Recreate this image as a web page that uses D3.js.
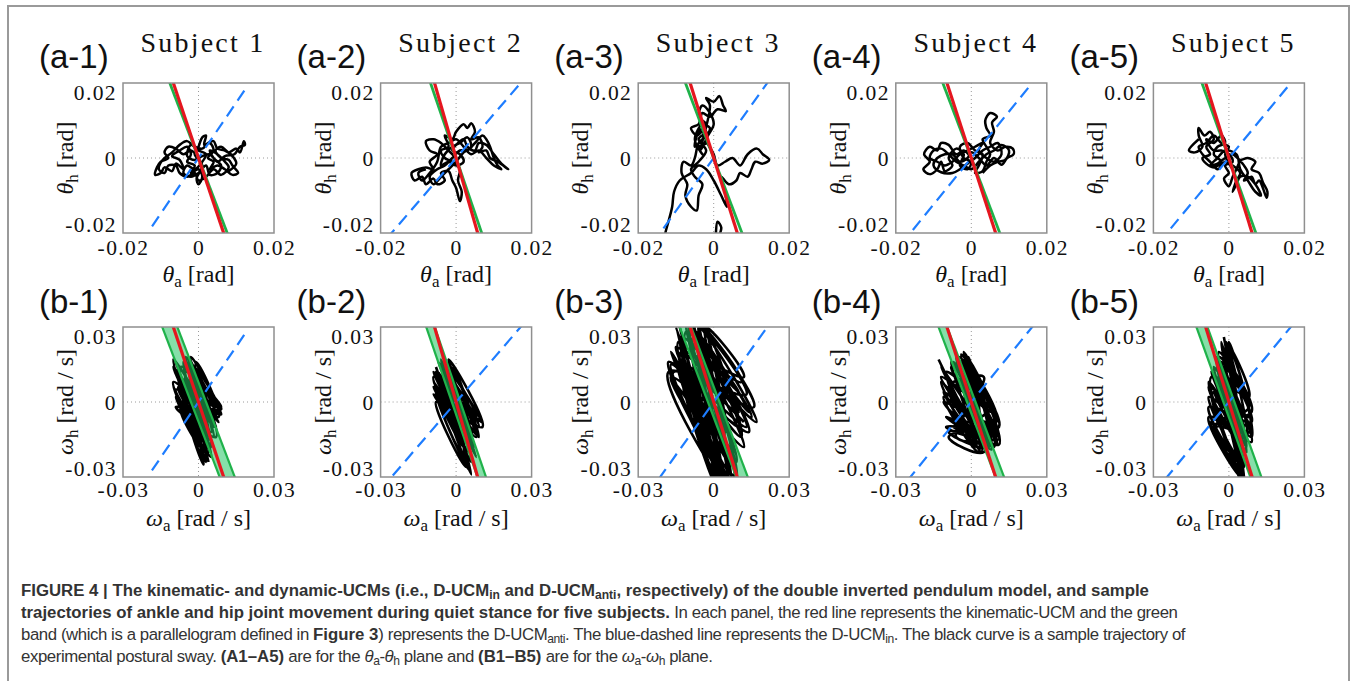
<!DOCTYPE html>
<html>
<head>
<meta charset="utf-8">
<script src="https://cdn.jsdelivr.net/npm/d3@7"></script>
<style>
  body { margin: 0; background: #fff; }
  #wrap { position: relative; width: 1357px; height: 681px; overflow: hidden; }
  #caption {
    position: absolute; left: 21px; top: 580px; width: 1320px;
    font-family: "Liberation Sans", Arial, sans-serif; font-size: 16.8px;
    line-height: 22px; color: #333; white-space: nowrap; letter-spacing: -0.42px;
  }
  #caption b { letter-spacing: 0; }
  #caption sub { font-size: 0.72em; vertical-align: -0.25em; line-height: 0; }
  .serif { font-family: "Liberation Serif", "Times New Roman", serif; }
</style>
</head>
<body>
<div id="wrap">
<svg id="chart" width="1357" height="681"></svg>
<div id="caption">
<b>FIGURE 4 | The kinematic- and dynamic-UCMs (i.e., D-UCM<sub>in</sub> and D-UCM<sub>anti</sub>, respectively) of the double inverted pendulum model, and sample</b><br>
<b>trajectories of ankle and hip joint movement during quiet stance for five subjects.</b> In each panel, the red line represents the kinematic-UCM and the green<br>
band (which is a parallelogram defined in <b>Figure 3</b>) represents the D-UCM<sub>anti</sub>. The blue-dashed line represents the D-UCM<sub>in</sub>. The black curve is a sample trajectory of<br>
experimental postural sway. <b>(A1–A5)</b> are for the <i>θ</i><sub>a</sub>-<i>θ</i><sub>h</sub> plane and <b>(B1–B5)</b> are for the <i>ω</i><sub>a</sub>-<i>ω</i><sub>h</sub> plane.
</div>
</div>
<script>
// ---- data (angles in 1e-3 rad, velocities in 1e-3 rad/s) ----
var subjects = ["Subject 1", "Subject 2", "Subject 3", "Subject 4", "Subject 5"];
var aLabels = ["(a-1)", "(a-2)", "(a-3)", "(a-4)", "(a-5)"];
var bLabels = ["(b-1)", "(b-2)", "(b-3)", "(b-4)", "(b-5)"];
var angleTicks = [-20, 0, 20];
var velTicks = [-30, 0, 30];
var angleTickLabels = ["-0.02", "0", "0.02"];
var velTickLabels = ["-0.03", "0", "0.03"];

// kinematic UCM (red), D-UCM_anti (green), D-UCM_in (blue) slopes per subject
var ucmSlope = [-3.0, -3.5, -3.2, -3.1, -3.25];
var antiSlope = [-2.63, -2.95, -2.67, -2.65, -2.8];
var antiHalfWidth = [3.0, 1.7, 2.3, 1.7, 2.2];
var inSlope = [1.48, 1.17, 1.41, 1.24, 1.22];
var inReachA = [12.3, 25, 25, 25, 25];
var inReachB = [18.5, 35, 35, 35, 35];

// sample trajectories, theta_a-theta_h plane
var trajA1 = [[0,0],[-2,2],[-4,1],[-6,2.5],[-8,3],[-9,1.5],[-8,0],[-10,-1],[-11,-2.5],[-11.5,-4.5],[-10,-4],[-9,-2.5],[-7,-3.5],[-6,-1.5],[-4,-3],[-5,-0.5],[-7,0.5],[-5,2],[-3,3],[-2,1],[-3,-1],[-1,-2],[-2,-4],[0,-3],[1,-5],[0,-7],[-0.5,-5.5],[1,-2],[-1,1],[0,3],[1,5.5],[2,6],[1.5,3.5],[3,4],[4,2],[2.5,0],[4,-1],[3,-3],[5,-2],[7,-3],[9,-4.5],[10.5,-4],[9,-2],[8,-0.5],[6,0],[4.5,2],[6,3],[8,1.5],[10,2.5],[11,1.5],[12,4.5],[12.3,3.5],[11,3],[9.5,1],[7,0.5],[5,-1],[3,1],[1,0.5],[-1,-0.5],[-3,0.5],[-2,3.5],[0,2],[2,1],[1,-1],[-1,-3],[-3,-2],[-4,-4],[-2,-5],[0,-4],[2,-2],[3,-4.5],[5,-4],[6,-2],[4,0],[3,2],[5,1],[7,-1],[8,-2.5],[6,-4.5],[4,-3],[2,-5],[0,-6],[-1,-4],[-3,-5],[-5,-4],[-6,-2],[-8,-2],[-9,-4],[-10.5,-3],[-9.5,-0.5],[-7,1.5],[-5,3.5],[-3,4.5],[-1,3],[1,2.5],[2.5,4],[4,4.5],[5,2.5],[7,2],[9,0.5],[10,-1.5],[8,-3.5]];
var trajA2 = [[0,0],[-2,2],[-4,4],[-6,5],[-8,4.5],[-7,2],[-5,1],[-7,-1],[-6,-3],[-8,-2.5],[-10,-3],[-11.8,-4],[-11,-6],[-9,-5],[-8,-7],[-6,-5.5],[-5,-7],[-3,-6],[-4,-4],[-2,-3.5],[-1,-6],[0,-8],[1,-11.5],[1.5,-9],[0.5,-6],[1,-3],[-1,-1],[-3,0],[-4,2],[-2,3],[-3,6],[-1,5],[0,7],[2,9],[3,8],[4,9.3],[5,7],[4,5],[6,5.5],[7,3],[6,1.5],[8,2],[9,0],[11,-1],[13.8,-3],[12,-1.5],[10,1],[8,3.5],[6,4],[5,2],[3,3],[2,5],[0,3.5],[-1,2],[1,1],[2,-1],[0,-2],[-2,-1],[-4,-2],[-3,1],[-1,3],[1,4],[3,5.5],[4,3],[2,1.5],[0,-1],[-2,-3],[-4,-5],[-6,-7],[-7,-5],[-5,-3],[-3,-2],[-1,0],[1,2],[3,2],[5,4],[7,6],[8,5],[9,3],[10,0],[11,-2],[12,-3],[10,-2],[8,0],[6,2],[4,1],[2,3],[0,5],[-2,4],[-4,3],[-5,-1],[-7,-4],[-9,-6],[-10,-4],[-8,-3]];
var trajA3 = [[-3,5],[-5,3],[-4,7],[-2,9],[-4,11],[-3,14],[-1,12],[0,9],[-1.5,6],[-3.5,2],[-1,14],[-2,16],[0,15],[1.5,16.5],[2.5,14],[3.2,12.5],[1,13],[-1,11],[-3,12],[-4,9],[-6,8],[-4.5,6],[-3,7],[-2,4],[-4,3],[-3,1],[-5,5],[-3,9],[-2,6],[-4,4],[-5,0],[-6,-2],[-8,-1],[-8.5,-4],[-7,-7],[-7.5,-10],[-6,-13],[-4.5,-14],[-4,-10],[-3,-7],[-5,-5],[-6,-3],[-4,-1],[-2,2],[-4,5],[-2,7],[-3,9],[-1,8],[-2,5],[0,1],[1,-2],[3,-1],[5,0],[7,-2],[9,1],[11.5,2.5],[13,1],[14.7,-0.5],[13,-1.5],[11,-1],[10,-3],[9,-5],[7,-4],[6,-6],[4,-7],[2,-5],[3,-9],[3.5,-13],[2,-10],[0,-6],[-2,-3],[-4,-2],[-6,-4],[-9,-6],[-10.5,-9],[-11,-13],[-12,-17],[-13,-21],[-13,-25],[0,-25],[0.5,-21],[1,-17],[2,-18.5],[1.5,-21],[2,-25]];
var trajA4 = [[0,0],[-2,2],[-4,1],[-6,3.5],[-8,4],[-9,2],[-11,3],[-12.5,1],[-11,-1],[-12.7,-3],[-11,-4.3],[-9,-3],[-8,-1],[-7,-3.5],[-5,-2],[-6,0],[-4,2.5],[-2,1],[-3,-2],[-1,-3],[0,-1],[-2,0],[-3,3],[-1,4],[1,2],[3,1],[2,-2],[1,-4],[3,-3.5],[4,-1],[5,1],[4,3],[3,5],[5,6],[4,8],[3.7,10],[5,12],[6.8,11],[5.5,9.5],[6,7],[5,4],[7,2],[9,3],[11,2.5],[11.2,1],[9.5,0],[8,-1.8],[6,0],[4,-2],[2,0],[0,1.5],[-1,0],[-3,-1],[-5,1],[-7,1],[-9,0],[-10,-2],[-8,-3.8],[-5,-4],[-3,-3],[-1,-1.5],[1,0],[3,2],[5,3],[7,4],[8,1],[6,-1],[4,0],[2,2],[3,4],[1,3],[-1,2],[-3,1],[-5,-1],[-7,-2],[-9,-1],[-11,0],[-10,2],[-8,2.5],[-6,1],[-4,-1],[-2,-2],[0,-3],[2,-1],[4,1],[6,2],[8,3.5],[10,2],[9,-0.5],[7,-1],[5,-2],[3,-4]];
var trajA5 = [[-8,5],[-10.6,2],[-9,1.5],[-7,3],[-8,6],[-8,8],[-6.5,6],[-5,7],[-4,5],[-6,3],[-5,1],[-7,0],[-6,-1.5],[-4,-2.5],[-2,-1],[-4,1],[-3,3],[-1,4],[-2,6],[-4,4],[-6,5],[-4,2],[-2,2],[0,1],[1,-1],[-1,-2],[0,-4],[-1.3,-5.5],[0,-7.5],[1,-5],[2,-3],[3,-1],[4,-2],[5,-4],[4,-6],[6,-5],[7,-7],[8,-6],[9,-8],[10,-10.6],[10.2,-9],[9,-6.5],[8,-4],[6,-3],[7,-1],[5,0],[3,-0.5],[1,1],[-1,0],[-3,-1.5],[-5,-2],[-3,0],[-1,2],[2,1],[3,-3],[5,-6],[7,-9],[8.5,-10],[7,-7],[5,-5],[3,-5],[2,-7],[1,-9],[2,-6],[3,-4],[1,-2],[-1,-1],[-3,-3],[-5,-1],[-7,1],[-8,3],[-6,4],[-4,6],[-2,4],[0,3],[-1,1],[1,-3]];

// sample trajectories, omega_a-omega_h plane
var trajB1 = [[-9,16],[1,-12],[-7,10],[3,-18],[-4,14],[6,-8],[-10,17],[2,-20],[-6,6],[7,-2],[-3,18],[4,-15],[-9,5],[8,-6],[-1,16],[3,-24],[-5,12],[9,-3],[-8,0],[5,-12],[-2,10],[1,-22],[-7,14],[6,0],[-6,-4],[4,-20],[-3,6],[8,-8],[-8,10],[2,-16],[-4,16],[6,-4],[-9,-2],[3,-10],[-1,12],[5,-18],[-6,8],[7,-10],[-5,0],[2,-25],[-2,8],[9,-5],[-7,3],[4,-6],[-3,15],[0,-14],[-8,12],[4,-14],[-5,18],[7,-6],[-10,8],[3,-20],[-2,14],[8,-4],[-7,-2],[1,-18],[-6,16],[6,-14],[-9,2],[5,-22],[-3,10],[9,-2],[-8,6],[2,-10],[-4,18],[7,-14],[-6,-6],[3,-16],[-10,14],[6,-10],[-2,4],[4,-24]];
var trajB2 = [[-8,14],[2,-14],[-6,17],[4,-10],[-9,8],[6,-16],[-4,15],[8,-6],[-7,4],[3,-18],[-3,12],[10,-8],[-9,10],[5,-20],[-5,16],[7,-12],[-8,0],[4,-26],[-2,14],[9,-14],[-6,6],[6,-29],[-4,10],[8,-22],[-7,12],[2,-8],[-9,3],[5,-14],[-3,17],[10.5,-10],[-6,-2],[3,-12],[-5,8],[7,-4],[-8,12],[4,-16],[-2,10],[6,-24],[-7,8],[1,-4],[-7,16],[5,-8],[-9,6],[7,-18],[-4,12],[9,-10],[-6,0],[3,-22],[-2,16],[8,-14],[-8,4],[5,-27],[-5,14],[6,-6],[-9,12],[4,-12],[-3,8],[7,-20],[-7,10],[2,-16]];
var trajB3 = [[-14,32],[2,-28],[-8,31],[6,-33],[-17,15],[10,-10],[-11,32],[4,-32],[-18,12],[13,3],[-6,30],[8,-20],[-15,22],[17,-8],[-9,33],[1,-34],[-12,18],[12,10],[-5,31],[5,-30],[-16,8],[9,-24],[-7,28],[14,-4],[-13,26],[3,-33],[-10,10],[11,-14],[-4,32],[7,-34],[-14,16],[15,-6],[-8,26],[0,-24],[-11,28],[10,4],[-6,18],[6,-28],[-17,20],[4,-14],[-3,30],[8,-32],[-12,6],[12,-18],[-9,24],[2,-30],[-15,30],[5,-33],[-18,16],[13,-10],[-10,31],[7,-32],[-16,12],[16,-2],[-7,32],[3,-26],[-13,20],[11,8],[-5,30],[9,-30],[-17,10],[14,-12],[-9,28],[1,-32],[-14,24],[10,-4],[-6,22],[6,-24],[-12,14],[12,-8]];
var trajB4 = [[-13,17],[4,-16],[-6,18],[9,-12],[-11,4],[6,-19],[-3,20],[11,-17],[-10,-6],[3,-10],[-8,14],[10,-6],[-9,-14],[5,-20],[-2,16],[8,-14],[-12,8],[2,-18],[-5,18],[11,-10],[-7,-10],[6,-4],[-10,12],[4,-20],[0,14],[9,-18],[-11,0],[7,-8],[-4,10],[2,-14],[-8,16],[10,-14],[-6,-14],[5,10],[-9,6],[8,-19],[-1,18],[3,-6],[-12,14],[7,-18],[-4,19],[10,-8],[-10,-10],[5,-14],[-7,16],[11,-15],[-11,2],[3,-20],[-2,18],[9,-10],[-9,-12],[6,-18],[-6,12],[8,-4],[-12,10],[4,-12],[-3,15],[10,-17],[-8,-4],[2,-16]];
var trajB5 = [[-2,26],[5,-18],[-6,14],[8,-10],[-8,2],[6,-26],[-4,20],[9,-4],[-7,-8],[3,-20],[-1,24],[7,-14],[-8,8],[5,-32],[-5,18],[9,-16],[-6,-4],[2,-12],[0,22],[8,2],[-7,10],[6,-32],[-3,16],[9,-8],[-8,-2],[4,-24],[-2,12],[7,-20],[-6,4],[3,-8],[1,20],[8,-12],[-5,-10],[5,-28],[-3,24],[7,-18],[-7,12],[9,-12],[-8,-6],[5,-30],[-4,18],[8,-2],[-6,-10],[4,-22],[0,24],[9,-14],[-7,4],[6,-32],[-2,20],[8,-6],[-8,6],[3,-16]];

var trajA = [trajA1, trajA2, trajA3, trajA4, trajA5];
var trajB = [trajB1, trajB2, trajB3, trajB4, trajB5];

// ---- layout ----
var boxW = 151, boxH = 150;
var panelX0 = 123, pitch = 257.6;
var rowTop = [83, 327];
var red = "#e5161f", green = "#1fb24a", blue = "#1e7dff";

var svg = d3.select("#chart");
svg.append("rect")
  .attr("x", 8).attr("y", 6).attr("width", 1341).attr("height", 720)
  .attr("fill", "none").attr("stroke", "#9a9a9a").attr("stroke-width", 2);

function drawPanel(row, i) {
  var isA = row === 0;
  var lim = isA ? 20 : 30;
  var ticks = isA ? angleTicks : velTicks;
  var tickLabels = isA ? angleTickLabels : velTickLabels;
  var x0 = panelX0 + i * pitch, y0 = rowTop[row];
  var x = d3.scaleLinear().domain([-lim, lim]).range([0, boxW]);
  var y = d3.scaleLinear().domain([-lim, lim]).range([boxH, 0]);
  var g = svg.append("g").attr("transform", "translate(" + x0 + "," + y0 + ")");
  var clipId = "clip-" + row + "-" + i;
  g.append("clipPath").attr("id", clipId)
    .append("rect").attr("width", boxW).attr("height", boxH);
  var plot = g.append("g").attr("clip-path", "url(#" + clipId + ")");
  var line = d3.line().x(function (d) { return x(d[0]); }).y(function (d) { return y(d[1]); });

  // zero grid lines
  plot.append("line").attr("x1", x(0)).attr("x2", x(0)).attr("y1", 0).attr("y2", boxH)
    .attr("stroke", "#9a9a9a").attr("stroke-width", 1).attr("stroke-dasharray", "1,3");
  plot.append("line").attr("y1", y(0)).attr("y2", y(0)).attr("x1", 0).attr("x2", boxW)
    .attr("stroke", "#9a9a9a").attr("stroke-width", 1).attr("stroke-dasharray", "1,3");

  // sample trajectory
  plot.append("path")
    .datum(isA ? trajA[i] : trajB[i])
    .attr("d", line.curve(d3.curveCatmullRom.alpha(0.5)))
    .attr("fill", "none").attr("stroke", "#000").attr("stroke-width", isA ? 2.5 : 2.6)
    .attr("stroke-linejoin", "round");
  line.curve(d3.curveLinear);

  var ext = lim * 1.2;
  // D-UCM_anti band (b row) drawn over the trajectory
  if (!isA) {
    var s = antiSlope[i], w = antiHalfWidth[i];
    var band = [[ext / s - w, ext], [ext / s + w, ext], [-ext / s + w, -ext], [-ext / s - w, -ext]];
    plot.append("path").attr("d", line(band) + "Z")
      .attr("fill", "#22c462").attr("fill-opacity", 0.55).attr("stroke", "none");
    [-w, w].forEach(function (off) {
      plot.append("path").attr("d", line([[ext / s + off, ext], [-ext / s + off, -ext]]))
        .attr("fill", "none").attr("stroke", green).attr("stroke-width", 2.2);
    });
  }

  // D-UCM_in (blue dashed)
  var reach = isA ? inReachA[i] : inReachB[i];
  plot.append("path")
    .attr("d", line([[-reach, -reach * inSlope[i]], [reach, reach * inSlope[i]]]))
    .attr("fill", "none").attr("stroke", blue).attr("stroke-width", 2.2)
    .attr("stroke-dasharray", "12,7");

  // D-UCM_anti line (a row)
  if (isA) {
    plot.append("path")
      .attr("d", line([[ext / antiSlope[i], ext], [-ext / antiSlope[i], -ext]]))
      .attr("fill", "none").attr("stroke", green).attr("stroke-width", 2.8);
  }
  // kinematic UCM (red)
  plot.append("path")
    .attr("d", line([[ext / ucmSlope[i], ext], [-ext / ucmSlope[i], -ext]]))
    .attr("fill", "none").attr("stroke", red).attr("stroke-width", 3.2);

  // box
  g.append("rect").attr("width", boxW).attr("height", boxH)
    .attr("fill", "none").attr("stroke", "#8f8f8f").attr("stroke-width", 1.5);

  // axes
  var fmt = function (d) { return tickLabels[ticks.indexOf(d)]; };
  var xAxis = g.append("g").attr("transform", "translate(0," + boxH + ")")
    .call(d3.axisBottom(x).tickValues(ticks).tickSize(0).tickPadding(isA ? 18 : 16).tickFormat(fmt));
  var yAxis = g.append("g")
    .call(d3.axisLeft(y).tickValues(ticks).tickSize(0).tickPadding(6).tickFormat(fmt));
  [xAxis, yAxis].forEach(function (ax) {
    ax.select(".domain").remove();
    ax.selectAll("text").attr("class", "serif").attr("font-size", 21.5)
      .attr("letter-spacing", 1.4).attr("fill", "#111");
  });
  xAxis.selectAll("text").attr("dy", "0.2em");
  yAxis.selectAll("text").attr("dy", function (d) {
    return d > 0 ? "0.75em" : d < 0 ? "-0.05em" : "0.35em";
  });

  // axis titles
  var sym = isA ? "θ" : "ω";
  var unit = isA ? " [rad]" : " [rad / s]";
  var xt = g.append("text").attr("class", "serif").attr("font-size", 24).attr("fill", "#111")
    .attr("x", boxW / 2).attr("y", boxH + 49).attr("text-anchor", "middle");
  xt.append("tspan").attr("font-style", "italic").text(sym);
  xt.append("tspan").attr("font-size", 17).attr("dy", 5).text("a");
  xt.append("tspan").attr("dy", -5).text(unit);
  var yt = g.append("text").attr("class", "serif").attr("font-size", 24).attr("fill", "#111")
    .attr("transform", "translate(-50," + boxH / 2 + ") rotate(-90)").attr("text-anchor", "middle");
  yt.append("tspan").attr("font-style", "italic").text(sym);
  yt.append("tspan").attr("font-size", 17).attr("dy", 5).text("h");
  yt.append("tspan").attr("dy", -5).text(unit);

  // panel label
  svg.append("text").attr("x", x0 - 84).attr("y", row === 0 ? 68 : 313)
    .attr("font-family", "Liberation Sans, Arial, sans-serif").attr("font-size", 33)
    .attr("fill", "#111").text(isA ? aLabels[i] : bLabels[i]);
  if (isA) {
    svg.append("text").attr("class", "serif").attr("x", x0 + 80).attr("y", 52)
      .attr("text-anchor", "middle").attr("font-size", 28).attr("letter-spacing", 2.2)
      .attr("fill", "#111").text(subjects[i]);
  }
}

[0, 1].forEach(function (row) {
  subjects.forEach(function (s, i) { drawPanel(row, i); });
});
</script>
</body>
</html>
